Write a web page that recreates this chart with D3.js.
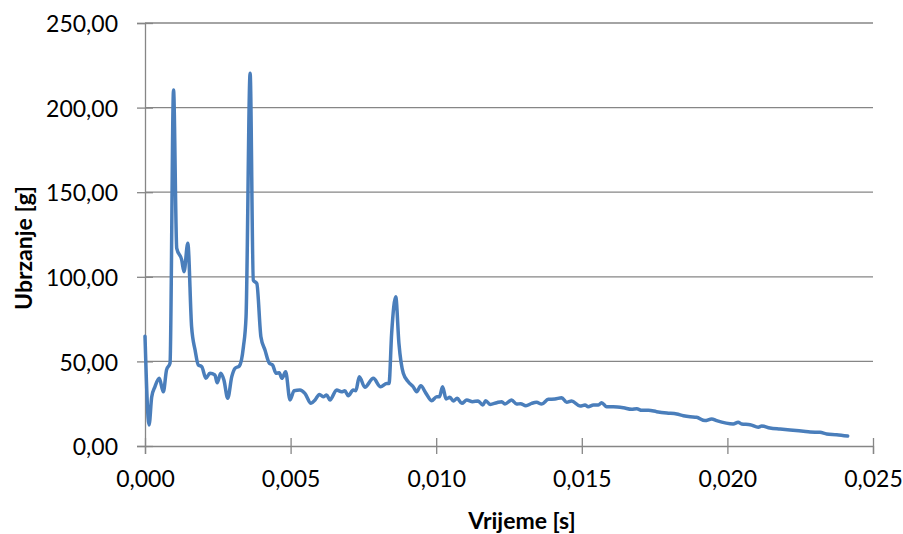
<!DOCTYPE html>
<html lang="hr">
<head>
<meta charset="UTF-8">
<title>Ubrzanje - vrijeme</title>
<script src="https://d3js.org/d3.v7.min.js"></script>
<style>
    body {
        margin: 0;
        padding: 0;
        background: #fff;
        overflow: hidden;
    }
    svg text {
        font-family: Lato, "Open Sans", sans-serif;
        fill: #000;
    }
    .tick text {
        font-size: 23px;
    }
    .axis-title {
        font-size: 23px;
        font-weight: bold;
    }
</style>
</head>
<body>
<div id="chart"></div>
<script>
    // vrijeme [s]
    const time = [
        0, 0.00014, 0.00023, 0.00034, 0.00049, 0.00063, 0.00074, 0.00086, 0.00098, 0.00109,
        0.00126, 0.00134, 0.00147, 0.0016, 0.00172, 0.00183, 0.00195, 0.00209, 0.00223, 0.0024,
        0.00248, 0.0026, 0.00271, 0.00284, 0.00298, 0.00309, 0.00324, 0.00338, 0.00347, 0.00361,
        0.00372, 0.00384, 0.00398, 0.00412, 0.00427, 0.00438, 0.0045, 0.00461, 0.0047, 0.00483,
        0.00498, 0.00512, 0.00532, 0.00549, 0.0057, 0.00584, 0.00599, 0.00612, 0.00624, 0.00635,
        0.00658, 0.00675, 0.00686, 0.00698, 0.00715, 0.00724, 0.00736, 0.00755, 0.00784, 0.00809,
        0.0083, 0.00838, 0.00847, 0.00861, 0.00872, 0.00887, 0.00904, 0.00921, 0.00933, 0.00947,
        0.00965, 0.00984, 0.01002, 0.01011, 0.01022, 0.01034, 0.01047, 0.01059, 0.01072, 0.01088,
        0.01105, 0.01125, 0.01144, 0.0116, 0.0117, 0.01185, 0.01208, 0.01225, 0.01236, 0.01259,
        0.01276, 0.0129, 0.01308, 0.01328, 0.01345, 0.01362, 0.01385, 0.01408, 0.01431, 0.01448,
        0.01465, 0.01494, 0.01511, 0.01522, 0.0154, 0.01557, 0.01568, 0.01585, 0.01608, 0.01643,
        0.01671, 0.01689, 0.01706, 0.01729, 0.01757, 0.01792, 0.01826, 0.01849, 0.01872, 0.01894,
        0.01923, 0.01946, 0.01963, 0.0202, 0.02037, 0.02049, 0.02078, 0.02106, 0.02118, 0.02146,
        0.02181, 0.02215, 0.02261, 0.02284, 0.02318, 0.02341, 0.02375, 0.02413
    ];

    // ubrzanje [g]
    const accel = [
        64.9, 12.4, 29.0, 35.0, 40.0, 32.0, 45.0, 49.0, 210.4, 116.8,
        110.0, 103.0, 119.8, 70.5, 56.7, 47.9, 46.9, 40.0, 43.0, 42.0,
        37.4, 43.0, 39.0, 28.2, 41.0, 45.9, 47.3, 58.7, 76.4, 220.3,
        98.0, 96.0, 64.6, 56.7, 48.9, 47.9, 43.0, 43.3, 40.0, 43.9,
        27.2, 32.7, 33.1, 31.1, 25.2, 27.2, 30.5, 29.1, 30.1, 27.2,
        33.1, 32.1, 32.6, 29.7, 33.1, 32.7, 41.0, 34.7, 40.0, 35.0,
        37.0, 37.0, 66.6, 88.2, 60.7, 43.0, 38.0, 35.0, 32.1, 35.6,
        31.1, 26.8, 29.1, 29.1, 35.0, 27.8, 28.8, 26.6, 28.2, 25.2,
        27.2, 26.2, 26.6, 24.2, 26.8, 24.6, 25.6, 26.2, 24.8, 27.2,
        24.8, 25.0, 23.8, 25.2, 25.8, 24.8, 27.6, 27.8, 28.5, 25.8,
        26.6, 23.6, 24.2, 23.2, 24.2, 24.2, 25.6, 23.2, 23.2, 22.6,
        21.7, 22.0, 21.1, 21.1, 20.3, 19.5, 18.9, 17.9, 17.3, 17.0,
        15.0, 16.0, 15.0, 13.0, 14.0, 13.0, 12.6, 11.1, 11.8, 10.6,
        10.0, 9.5, 8.7, 8.3, 8.1, 7.1, 6.7, 5.9
    ];

    const xTicks = [0, 0.005, 0.01, 0.015, 0.02, 0.025];
    const yTicks = [0, 50, 100, 150, 200, 250];

    const data = time.map((t, i) => ({ t: t, a: accel[i] }));

    const W = 903, H = 534;
    const margin = { top: 23, right: 30, bottom: 88, left: 145 };
    const width = W - margin.left - margin.right;
    const height = H - margin.top - margin.bottom;

    // decimalni zarez
    const hr = d3.formatLocale({ decimal: ",", thousands: ".", grouping: [3], currency: ["", " kn"] });

    const svg = d3.select("#chart")
        .append("svg")
        .attr("width", W)
        .attr("height", H)
        .append("g")
        .attr("transform", `translate(${margin.left},${margin.top})`);

    const x = d3.scaleLinear().domain([0, 0.025]).range([0, width]);
    const y = d3.scaleLinear().domain([0, 250]).range([height, 0]);

    // mreza
    svg.append("g")
        .selectAll("line")
        .data(yTicks.filter(d => d > 0))
        .enter().append("line")
        .attr("x1", 0)
        .attr("x2", width)
        .attr("y1", d => y(d))
        .attr("y2", d => y(d))
        .attr("stroke", "#868686")
        .attr("stroke-width", 1.3);

    // Y os
    const yAxis = svg.append("g")
        .call(d3.axisLeft(y).tickValues(yTicks).tickSize(8).tickPadding(19).tickFormat(hr.format(".2f")));
    yAxis.selectAll(".tick").append("line").attr("x2", 8);
    yAxis.selectAll(".tick text").attr("dy", "0.38em");

    // X os
    const xAxis = svg.append("g")
        .attr("transform", `translate(0,${height})`)
        .call(d3.axisBottom(x).tickValues(xTicks).tickSize(8).tickPadding(17).tickFormat(hr.format(".3f")));
    xAxis.selectAll(".tick").append("line").attr("y2", -8);

    svg.selectAll(".domain, .tick line")
        .attr("stroke", "#868686")
        .attr("stroke-width", 1.3);

    // linija
    const line = d3.line()
        .x(d => x(d.t))
        .y(d => y(d.a))
        .curve(d3.curveMonotoneX);

    svg.append("path")
        .datum(data)
        .attr("fill", "none")
        .attr("stroke", "#4a7ebb")
        .attr("stroke-width", 3.5)
        .attr("stroke-linejoin", "round")
        .attr("stroke-linecap", "round")
        .attr("d", line);

    // naslovi osi
    svg.append("text")
        .attr("class", "axis-title")
        .attr("x", 377)
        .attr("y", 506)
        .attr("text-anchor", "middle")
        .text("Vrijeme [s]");

    svg.append("text")
        .attr("class", "axis-title")
        .attr("transform", `translate(${-113},${225}) rotate(-90)`)
        .attr("text-anchor", "middle")
        .text("Ubrzanje [g]");
</script>
</body>
</html>
